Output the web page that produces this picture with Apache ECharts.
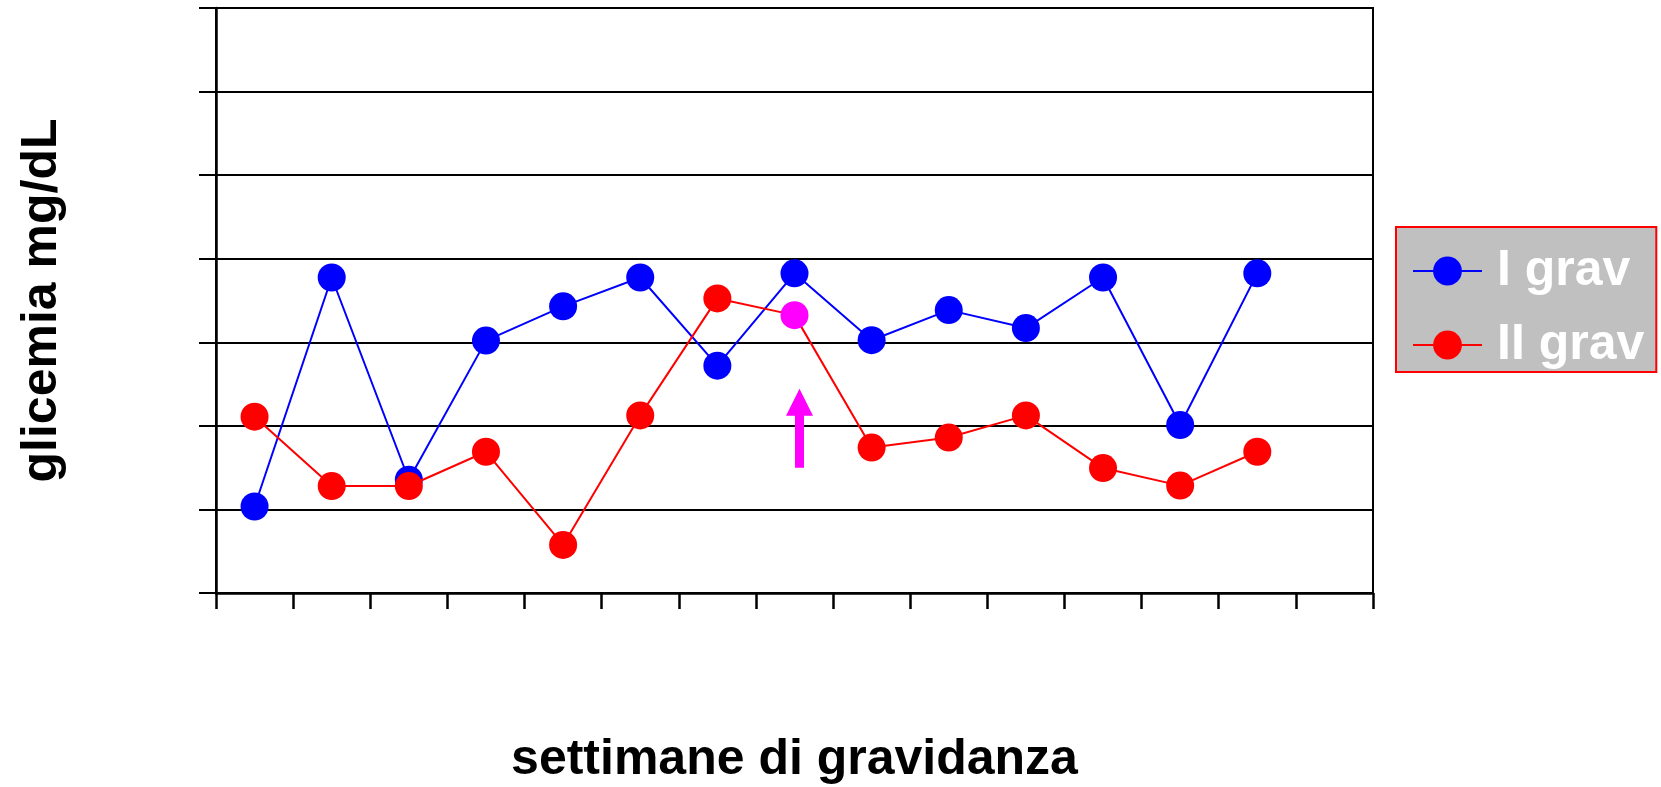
<!DOCTYPE html>
<html>
<head>
<meta charset="utf-8">
<script src="https://cdn.jsdelivr.net/npm/echarts@6/dist/echarts.min.js"></script>
<style>
  html, body { margin: 0; padding: 0; background: #fff; }
  #chart { width: 1661px; height: 787px; }
</style>
</head>
<body>
<div id="chart"></div>
<script>
// Weeks of pregnancy (15 slots on the axis, 14 measured)
const weeks = ['1', '2', '3', '4', '5', '6', '7', '8', '9', '10', '11', '12', '13', '14', '15'];

// Blood glucose, mg/dL
const firstPregnancy  = [60.7, 115.5, 67.1, 100.4, 108.6, 115.5, 94.4, 116.5, 100.5, 107.7, 103.4, 115.5, 80.2, 116.5, null];
const secondPregnancy = [82.2, 65.6, 65.6, 73.8, 51.5, 82.5, 110.5, 106.5, 74.8, 77.2, 82.5, 69.9, 65.7, 73.8, null];

// Week at which the event marked by the arrow happens
const eventWeek = 7;

const yMin = 40, yMax = 180, yStep = 20;

const FONT = '"Liberation Sans", Arial, sans-serif';

const chart = echarts.init(document.getElementById('chart'), null, { renderer: 'canvas' });

const redData = secondPregnancy.map((v, i) =>
  i === eventWeek ? { value: v, itemStyle: { color: '#ff00ff' } } : v
);

chart.setOption({
  animation: false,
  backgroundColor: '#ffffff',
  grid: {
    left: 216, right: 288, top: 8, bottom: 194,
    outerBoundsMode: 'none',
    containLabel: false,
    show: true, borderColor: '#000', borderWidth: 2, backgroundColor: 'transparent'
  },
  legend: {
    orient: 'vertical',
    left: 1396, top: 227,
    backgroundColor: '#c0c0c0',
    borderColor: '#ff0000', borderWidth: 2, borderRadius: 0,
    padding: [19, 12, 2, 16],
    itemWidth: 69, itemHeight: 36,
    itemGap: 24,
    textStyle: {
      color: '#ffffff', fontFamily: FONT, fontWeight: 'bold', fontSize: 50,
      padding: [0, 0, 0, 10]
    },
    data: ['I grav', 'II grav']
  },
  xAxis: {
    type: 'category',
    data: weeks,
    boundaryGap: true,
    name: 'settimane di gravidanza',
    nameLocation: 'middle',
    nameGap: 142,
    nameTextStyle: { fontFamily: FONT, fontWeight: 'bold', fontSize: 50, color: '#000' },
    axisLine: { lineStyle: { color: '#000', width: 2.5 } },
    axisTick: { show: true, interval: 0, length: 16, lineStyle: { color: '#000', width: 2.5 } },
    axisLabel: { show: false },
    splitLine: { show: false }
  },
  yAxis: {
    type: 'value',
    min: yMin, max: yMax, interval: yStep,
    name: 'glicemia mg/dL',
    nameLocation: 'middle',
    nameGap: 149,
    nameTextStyle: { fontFamily: FONT, fontWeight: 'bold', fontSize: 50, color: '#000' },
    axisLine: { show: true, lineStyle: { color: '#000', width: 2.5 } },
    axisTick: { show: true, length: 17, lineStyle: { color: '#000', width: 2 } },
    axisLabel: { show: false },
    splitLine: { show: true, lineStyle: { color: '#000', width: 2 } }
  },
  series: [
    {
      name: 'I grav',
      type: 'line',
      data: firstPregnancy,
      symbol: 'circle',
      symbolSize: 28,
      color: '#0000ff',
      itemStyle: { color: '#0000ff' },
      lineStyle: { color: '#0000ff', width: 2 },
      z: 3
    },
    {
      name: 'II grav',
      type: 'line',
      data: redData,
      symbol: 'circle',
      symbolSize: 28,
      color: '#ff0000',
      itemStyle: { color: '#ff0000' },
      lineStyle: { color: '#ff0000', width: 2 },
      z: 4
    }
  ]
});

// Upward arrow under the marked week
const base = chart.convertToPixel({ xAxisIndex: 0, yAxisIndex: 0 }, [eventWeek, 70]);
const ax = base[0] + 5, ay = base[1];
chart.setOption({
  graphic: [
    {
      type: 'polygon',
      z: 10,
      shape: {
        points: [
          [ax - 4.5, ay], [ax + 4.5, ay],
          [ax + 4.5, ay - 52], [ax + 13.5, ay - 52],
          [ax, ay - 79],
          [ax - 13.5, ay - 52], [ax - 4.5, ay - 52]
        ]
      },
      style: { fill: '#ff00ff' }
    }
  ]
});
</script>
</body>
</html>
